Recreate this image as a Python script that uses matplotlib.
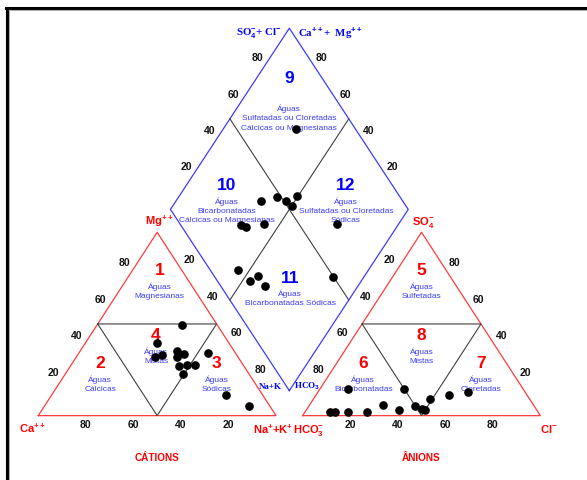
import matplotlib.pyplot as plt
import matplotlib.lines as mlines
import numpy as np

plt.rcParams['font.family'] = 'Liberation Sans'
plt.rcParams['mathtext.fontset'] = 'custom'
plt.rcParams['mathtext.rm'] = 'Liberation Sans:bold'
plt.rcParams['mathtext.bf'] = 'Liberation Sans:bold'
plt.rcParams['mathtext.it'] = 'Liberation Sans:bold'

# cations (% meq): Mg and Na+K, Ca is the rest
cat_mg = [49.5, 39.5, 32, 33, 35, 33.5, 32, 34, 27, 27.5, 27.5, 22.5, 11.5, 5]
cat_nak = [35.5, 30, 33, 35.5, 41, 44.5, 42.5, 54.5, 45.5, 49, 52, 49.5, 73, 86]

# anions (% meq): SO4 and Cl, HCO3 is the rest
an_so4 = [14.5, 2, 2, 2, 2, 6, 3, 14.5, 5.5, 3.5, 3, 9, 11.5, 13]
an_cl = [12, 10.5, 12.5, 18, 26, 31, 39, 35.5, 44.5, 48.5, 50, 49, 56, 63]

# diamond: SO4+Cl and Ca+Mg
dia_socl = [75, 40.5, 48.5, 51, 57, 52, 25.5, 27, 35.5, 66, 11.5, 13.5, 18.5, 18.5, 49.5]
dia_camg = [69.5, 64, 58.5, 53.5, 50.5, 50, 66, 63.5, 56.5, 26, 55, 47, 44.5, 39, 13]

ticks = [20, 40, 60, 80]

H = np.sqrt(3) / 2
GAP = 11.2
X0_AN = 100 + GAP
BX, BY = 100 + GAP / 2, 11.8   # bottom corner of the diamond
DW, DH = 50, 85.6              # half width / half height of the diamond

RED = '#ff0000'
TRI_RED = '#ff3b3b'
BLUE = '#0000ff'
LBLUE = '#3c3cff'
GRAY = '#404040'


def cat_xy(mg, nak):
    mg = np.asarray(mg, float)
    nak = np.asarray(nak, float)
    return nak + mg / 2, mg * H


def an_xy(so4, cl):
    so4 = np.asarray(so4, float)
    cl = np.asarray(cl, float)
    return X0_AN + cl + so4 / 2, so4 * H


def dia_xy(socl, camg):
    socl = np.asarray(socl, float)
    camg = np.asarray(camg, float)
    return BX + (socl - camg) / 100 * DW, BY + (socl + camg) / 100 * DH


fig = plt.figure(figsize=(5.87, 4.81), dpi=100)
ax = fig.add_axes([0, 0, 1, 1])
ax.set_xlim(-16.1, 230.8)
ax.set_ylim(-30.4, 196.8)
ax.axis('off')

# frame
fig.add_artist(mlines.Line2D([6 / 587, 1], [1 - 9 / 481] * 2, color='black', lw=2.2))
fig.add_artist(mlines.Line2D([7 / 587] * 2, [0, 1 - 9 / 481], color='black', lw=2.2))
fig.add_artist(mlines.Line2D([8.5 / 587, 1], [1 - 10.8 / 481] * 2, color='#b0b0b0', lw=0.8))
fig.add_artist(mlines.Line2D([8.6 / 587] * 2, [0, 1 - 10.8 / 481], color='#b0b0b0', lw=0.8))

# triangle outlines and inner sub-fields
for fn in (cat_xy, an_xy):
    x, y = fn([0, 0, 100, 0], [0, 100, 0, 0])
    ax.plot(x, y, color=TRI_RED, lw=0.9)
    x, y = fn([50, 50, 0, 50], [0, 50, 50, 0])
    ax.plot(x, y, color=GRAY, lw=0.8)

# diamond outline and dividers
x, y = dia_xy([0, 0, 100, 100, 0], [0, 100, 100, 0, 0])
ax.plot(x, y, color=LBLUE, lw=0.9)
x, y = dia_xy([50, 50], [0, 100])
ax.plot(x, y, color=GRAY, lw=0.8)
x, y = dia_xy([0, 100], [50, 50])
ax.plot(x, y, color=GRAY, lw=0.8)

# samples
ax.scatter(*cat_xy(cat_mg, cat_nak), s=27, color='black', zorder=5)
ax.scatter(*an_xy(an_so4, an_cl), s=27, color='black', zorder=5)
ax.scatter(*dia_xy(dia_socl, dia_camg), s=27, color='black', zorder=5)


def lab(xy, txt, off=(0, 0), **kw):
    kw.setdefault('fontsize', 7.5)
    kw.setdefault('fontweight', 'bold')
    kw.setdefault('color', '#111111')
    ax.annotate(txt, xy=xy, xytext=off, textcoords='offset pixels',
                ha='center', va='center', **kw)


# tick labels
for t in ticks:
    lab(cat_xy(0, 100 - t), str(t), (0, -8))
    lab(cat_xy(t, 0), str(t), (-9, 7))
    lab(cat_xy(100 - t, t), str(t), (8, 10))
    lab(an_xy(0, t), str(t), (0, -8))
    lab(an_xy(100 - t, 0), str(t), (-8, 10))
    lab(an_xy(t, 100 - t), str(t), (9, 7))
    lab(dia_xy(t, 100), str(t), (-8, 7))
    lab(dia_xy(100, t), str(t), (8, 7))

# corner labels
red = dict(color=RED, fontsize=8)
lab(cat_xy(100, 0), 'Mg$^{++}$', (2, 12), **red)
lab(cat_xy(0, 0), 'Ca$^{++}$', (-6, -12), **red)
lab(cat_xy(0, 100), 'Na$^{+}$+K$^{+}$', (-3, -13), **red)
lab(an_xy(100, 0), 'SO$_4^{-}$', (2, 11), **red)
lab(an_xy(0, 0), 'HCO$_3^{-}$', (6, -14), **red)
lab(an_xy(0, 100), 'Cl$^{-}$', (8, -12), **red)

serif = dict(color=BLUE, fontsize=7.8, family='Liberation Serif')
lab(dia_xy(100, 100), 'SO$_4^{-}$+ Cl$^{-}$', (-31, -4), **serif)
lab(dia_xy(100, 100), 'Ca$^{++}$+  Mg$^{++}$', (41, -4), **serif)
lab((BX, BY), 'Na+K', (-19, 5), color=BLUE, fontsize=6.5, family='Liberation Serif')
lab((BX, BY), 'HCO$_3$', (18, 5), color=BLUE, fontsize=6.5, family='Liberation Serif')

lab(cat_xy(0, 50), 'CÁTIONS', (0, -41), color=RED, fontsize=7.2)
lab(an_xy(0, 50), 'ÂNIONS', (0, -41), color=RED, fontsize=7.2)

# water-type fields
fields = [
    ('1', ['Águas', 'Magnesianas'], (51, 68.8), RED, 15.5),
    ('4', ['Águas', 'Mistas'], (49.5, 38.1), RED, 15.5),
    ('2', ['Águas', 'Cálcicas'], (26, 24.9), RED, 15.5),
    ('3', ['Águas', 'Sódicas'], (75, 24.9), RED, 15.5),
    ('5', ['Águas', 'Sulfetadas'], (X0_AN + 50, 68.8), RED, 15.5),
    ('8', ['Águas', 'Mistas'], (X0_AN + 50, 38.1), RED, 15.5),
    ('6', ['Águas', 'Bicarbonatadas'], (X0_AN + 25.5, 24.9), RED, 15.5),
    ('7', ['Águas', 'Cloretadas'], (X0_AN + 75, 24.9), RED, 15.5),
    ('9', ['Águas', 'Sulfatadas ou Cloretadas', 'Cálcicas ou Magnesianas'],
     (105.5, 159.5), BLUE, 30),
    ('10', ['Águas', 'Bicarbonatadas', 'Cálcicas ou Magnesianas'],
     (79.4, 109.1), BLUE, 16),
    ('12', ['Águas', 'Sulfatadas ou Cloretadas', 'Sódicas'],
     (129.4, 109.1), BLUE, 16),
    ('11', ['Águas', 'Bicarbonatadas Sódicas'], (106, 65.4), BLUE, 15.7),
]
for num, lines, xy, col, gap in fields:
    lab(xy, num, color=col, fontsize=12.5)
    for i, line in enumerate(lines):
        lab(xy, line, (0, -gap - 9.6 * i), color=LBLUE, fontsize=6.0,
            fontweight='normal')

plt.savefig('out.png', dpi=100)
